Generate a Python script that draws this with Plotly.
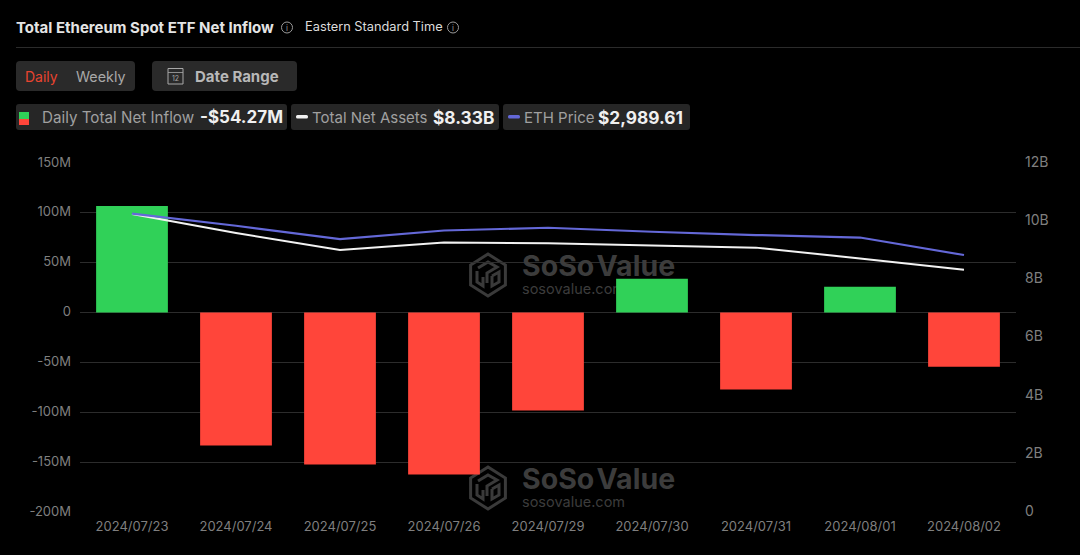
import plotly.graph_objects as go

dates = ["2024/07/23","2024/07/24","2024/07/25","2024/07/26","2024/07/29","2024/07/30","2024/07/31","2024/08/01","2024/08/02"]
net_inflow = [107, -133.4, -152.4, -162.5, -98.3, 34, -77.2, 26, -54.27]
net_assets = [10.25, 9.59, 9.01, 9.27, 9.24, 9.16, 9.09, 8.72, 8.33]
eth_price = [3472, 3330, 3175, 3275, 3307, 3260, 3222, 3193, 2989.61]
left_ticks = [150, 100, 50, 0, -50, -100, -150, -200]
left_labels = ["150M","100M","50M","0","-50M","-100M","-150M","-200M"]
right_ticks = [0, 2, 4, 6, 8, 10, 12]
right_labels = ["0","2B","4B","6B","8B","10B","12B"]

W, H = 1080, 555
L, R, T, B = 80, 1016, 163, 512
FONT = "Inter, Roboto, sans-serif"
GREEN, RED = "#30d158", "#ff453a"
bar_colors = [GREEN if v >= 0 else RED for v in net_inflow]

def px(x): return (x - L) / (R - L)
def py(y): return (B - y) / (B - T)

shapes, annos = [], []
def rect(x0, y0, x1, y1, fill, r=0, line=None, lw=1):
    if r:
        X0, X1, Y0, Y1 = px(x0), px(x1), py(y0), py(y1)
        rx, ry = r / (R - L), r / (B - T)
        d = (f"M{X0+rx},{Y0} L{X1-rx},{Y0} Q{X1},{Y0} {X1},{Y0-ry} L{X1},{Y1+ry} Q{X1},{Y1} {X1-rx},{Y1} "
             f"L{X0+rx},{Y1} Q{X0},{Y1} {X0},{Y1+ry} L{X0},{Y0-ry} Q{X0},{Y0} {X0+rx},{Y0} Z")
        shapes.append(dict(type="path", xref="paper", yref="paper", path=d, fillcolor=fill, line=dict(width=0)))
    else:
        shapes.append(dict(type="rect", xref="paper", yref="paper", x0=px(x0), x1=px(x1), y0=py(y0), y1=py(y1),
                           fillcolor=fill if fill else "rgba(0,0,0,0)", line=dict(width=lw if line else 0, color=line or "rgba(0,0,0,0)")))

def text(x, y, s, size, color, bold=False, anchor="left"):
    annos.append(dict(xref="paper", yref="paper", x=px(x), y=py(y), text=f"<b>{s}</b>" if bold else s, showarrow=False,
                      xanchor=anchor, yanchor="middle", font=dict(family=FONT, size=size, color=color),
                      xshift=-2 if anchor == "left" else 0))

def info(x, y):
    shapes.append(dict(type="circle", xref="paper", yref="paper", x0=px(x-5.5), x1=px(x+5.5), y0=py(y+5.5), y1=py(y-5.5),
                       line=dict(color="#9a9a9a", width=1), fillcolor="rgba(0,0,0,0)"))
    text(x, y, "i", 8, "#9a9a9a", anchor="center")

# Header
text(16, 27.5, "Total Ethereum Spot ETF Net Inflow", 15, "#e4e4e4", True)
info(287, 27.5)
text(304.5, 27, "Eastern Standard Time", 12.8, "#dcdcdc")
info(453, 27.5)
rect(16, 47, 1080, 47.8, "#3a3a3a")

rect(16, 61, 135, 91, "#2a2a2a", 4)
text(25, 76, "Daily", 14, "#e8442f")
text(76, 76, "Weekly", 14.3, "#a8a8a8")
rect(152, 61, 297, 91, "#2a2a2a", 4)
rect(168, 68.5, 183, 84, None, line="#a8a8a8")
rect(168, 72, 183, 72.8, "#a8a8a8")
text(175.5, 78.5, "12", 7, "#a8a8a8", anchor="center")
text(195, 76, "Date Range", 15, "#b8b8b8", True)

# Legend pills
rect(16, 104, 287, 130, "#262626", 3)
rect(19, 112, 29, 119, GREEN)
rect(19, 119, 29, 125, RED)
text(42, 117, "Daily Total Net Inflow", 15.2, "#a0a0a0")
text(200, 117, "-$54.27M", 17, "#f0f0f0", True)
rect(291, 104, 499, 130, "#262626", 3)
rect(296, 115, 308, 118.5, "#f2f2f2", 1.5)
text(312, 117, "Total Net Assets", 15, "#a0a0a0")
text(433, 117, "$8.33B", 17.3, "#f0f0f0", True)
rect(503, 104, 690, 130, "#262626", 3)
rect(508, 115, 520, 118.5, "#6468d8", 1.5)
text(524, 117, "ETH Price", 15, "#a0a0a0")
text(598, 117, "$2,989.61", 17.3, "#f0f0f0", True)

# Watermark logos
def logo(cx, cy):
    r = 20
    pts = [(cx, cy-r-1), (cx+r*0.87, cy-r/2), (cx+r*0.87, cy+r/2), (cx, cy+r+1), (cx-r*0.87, cy+r/2), (cx-r*0.87, cy-r/2)]
    d = "M" + " L".join(f"{px(a)},{py(b)}" for a, b in pts) + " Z"
    inner = [[(cx-10, cy-7), (cx, cy-13), (cx+9, cy-8), (cx-1, cy-2), (cx-1, cy+8)],
             [(cx-11, cy-4), (cx-11, cy+7), (cx-5, cy+11), (cx-5, cy+2)],
             [(cx+4, cy+1), (cx+11, cy-3), (cx+11, cy+7), (cx+4, cy+11), (cx+4, cy+1)]]
    for seg in inner:
        d += " M" + " L".join(f"{px(a)},{py(b)}" for a, b in seg)
    shapes.append(dict(type="path", xref="paper", yref="paper", path=d, layer="below",
                       line=dict(color="#3a3a3a", width=3), fillcolor="rgba(0,0,0,0)"))
logo(488, 275)
logo(488, 488)

fig = go.Figure()
# watermark text on the base axes so bars are painted over it
wm = "<b>SoSo\u200aValue</b>"
fig.add_trace(go.Scatter(x=[522, 522, 522, 522], y=[269, 290, 482, 503], mode="text",
                         text=[wm, "sosovalue.com", wm, "sosovalue.com"],
                         textposition="middle right", hoverinfo="skip", showlegend=False,
                         textfont=dict(family=FONT, size=[28.5, 14.5, 28.5, 14.5], color="#3c3c3c"),
                         xaxis="x", yaxis="y"))
fig.add_trace(go.Bar(x=dates, y=net_inflow, marker=dict(color=bar_colors, line=dict(width=0)), xaxis="x2", yaxis="y2",
                     name="Daily Total Net Inflow", showlegend=False))
fig.add_trace(go.Scatter(x=dates, y=net_assets, mode="lines", line=dict(color="#f2f2f2", width=2), xaxis="x2", yaxis="y3",
                         name="Total Net Assets", showlegend=False))
fig.add_trace(go.Scatter(x=dates, y=eth_price, mode="lines", line=dict(color="#6468d8", width=2.2), xaxis="x2", yaxis="y4",
                         name="ETH Price", showlegend=False))

tickfont = dict(family=FONT, size=13, color="#7f7f7f")
fig.update_layout(
    width=W, height=H, autosize=False,
    paper_bgcolor="#000000", plot_bgcolor="#000000",
    margin=dict(l=L, r=W-R, t=T, b=H-B, pad=0),
    bargap=0.31, shapes=shapes, annotations=annos,
    xaxis=dict(range=[L, R], visible=False, fixedrange=True),
    yaxis=dict(range=[B, T], visible=False, fixedrange=True),
    xaxis2=dict(type="category", overlaying="x", side="bottom", categoryorder="array", categoryarray=dates,
                tickfont=tickfont, ticks="", showgrid=False, showline=False, zeroline=False, ticklabelstandoff=5),
    yaxis2=dict(overlaying="y", side="left", range=[-200, 150], tickvals=left_ticks, ticktext=left_labels, tickfont=tickfont,
                gridcolor="#2c2c2c", gridwidth=1, zeroline=False, showline=False, ticks="", ticklabelstandoff=8,
                ticklabelshift=-1),
    yaxis3=dict(overlaying="y", side="right", range=[0, 12], tickvals=right_ticks, ticktext=right_labels,
                tickfont=dict(family=FONT, size=14, color="#7f7f7f"),
                showgrid=False, zeroline=False, showline=False, ticks="", ticklabelstandoff=8, ticklabelshift=-1),
    yaxis4=dict(overlaying="y", side="right", range=[0, 4060], visible=False, showgrid=False),
)
fig.write_html("out.html", post_script="document.body.style.margin='0';document.body.style.background='#000';",
               config=dict(displayModeBar=False))
